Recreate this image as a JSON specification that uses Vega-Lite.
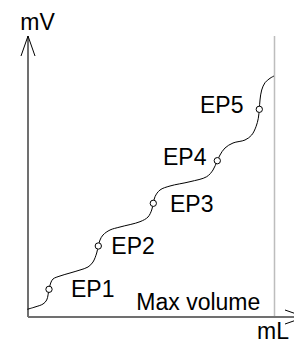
{
  "$schema": "https://vega.github.io/schema/vega-lite/v6.json",
  "width": 294,
  "height": 345,
  "autosize": {"type": "none"},
  "padding": 0,
  "config": {"view": {"stroke": null}},
  "datasets": {
    "curve": [
      {"mL": -0.07, "mV": 0.77},
      {"mL": 0.7, "mV": 1.0},
      {"mL": 1.5, "mV": 1.3},
      {"mL": 1.87, "mV": 1.7},
      {"mL": 2.1, "mV": 2.77},
      {"mL": 2.27, "mV": 3.4},
      {"mL": 2.5, "mV": 3.8},
      {"mL": 3.2, "mV": 4.1},
      {"mL": 4.2, "mV": 4.4},
      {"mL": 5.2, "mV": 4.7},
      {"mL": 6.0, "mV": 5.0},
      {"mL": 6.5, "mV": 5.5},
      {"mL": 6.87, "mV": 6.4},
      {"mL": 7.03, "mV": 7.1},
      {"mL": 7.2, "mV": 7.7},
      {"mL": 7.5, "mV": 8.2},
      {"mL": 8.2, "mV": 8.7},
      {"mL": 9.2, "mV": 9.0},
      {"mL": 11.2, "mV": 9.53},
      {"mL": 12.0, "mV": 10.0},
      {"mL": 12.37, "mV": 10.7},
      {"mL": 12.53, "mV": 11.37},
      {"mL": 12.7, "mV": 12.03},
      {"mL": 13.2, "mV": 12.7},
      {"mL": 14.2, "mV": 13.1},
      {"mL": 16.2, "mV": 13.53},
      {"mL": 17.87, "mV": 14.03},
      {"mL": 18.5, "mV": 14.7},
      {"mL": 18.93, "mV": 15.63},
      {"mL": 19.2, "mV": 16.2},
      {"mL": 19.7, "mV": 16.9},
      {"mL": 20.5, "mV": 17.4},
      {"mL": 21.7, "mV": 17.7},
      {"mL": 22.37, "mV": 18.2},
      {"mL": 22.8, "mV": 19.03},
      {"mL": 23.03, "mV": 19.87},
      {"mL": 23.13, "mV": 20.77},
      {"mL": 23.2, "mV": 21.7},
      {"mL": 23.37, "mV": 22.7},
      {"mL": 23.7, "mV": 23.43},
      {"mL": 24.2, "mV": 23.87},
      {"mL": 24.6, "mV": 24.1}
    ],
    "eps": [
      {"ep": "EP1", "mL": 2.1, "mV": 2.77},
      {"ep": "EP2", "mL": 7.03, "mV": 7.1},
      {"ep": "EP3", "mL": 12.53, "mV": 11.37},
      {"ep": "EP4", "mL": 18.93, "mV": 15.63},
      {"ep": "EP5", "mL": 23.13, "mV": 20.77}
    ],
    "labels": [
      {"text": "EP1", "mL": 4.3, "mV": 2.0},
      {"text": "EP2", "mL": 8.33, "mV": 6.35},
      {"text": "EP3", "mL": 14.2, "mV": 10.55},
      {"text": "EP4", "mL": 13.5, "mV": 15.25},
      {"text": "EP5", "mL": 17.2, "mV": 20.45},
      {"text": "Max volume", "mL": 10.83, "mV": 0.7},
      {"text": "mV", "mL": -0.77, "mV": 28.7},
      {"text": "mL", "mL": 22.9, "mV": -2.2}
    ],
    "axes": [
      {"mL": 0, "mV": 0, "mL2": 0, "mV2": 28.1},
      {"mL": 0, "mV": 0, "mL2": 26.6, "mV2": 0}
    ],
    "arrows": [
      {"mL": 0, "mV": 28.1, "mL2": -0.7, "mV2": 26.1},
      {"mL": 0, "mV": 28.1, "mL2": 0.7, "mV2": 26.1},
      {"mL": 27.7, "mV": 0, "mL2": 25.7, "mV2": 0.7},
      {"mL": 27.7, "mV": 0, "mL2": 25.7, "mV2": -0.7}
    ],
    "maxline": [
      {"mL": 24.65, "mV": 0, "mL2": 24.65, "mV2": 28.1}
    ]
  },
  "encoding": {
    "x": {"field": "mL", "type": "quantitative", "axis": null, "scale": {"domain": [-2.8, 26.6], "nice": false, "zero": false}},
    "y": {"field": "mV", "type": "quantitative", "axis": null, "scale": {"domain": [-2.8, 31.7], "nice": false, "zero": false}}
  },
  "layer": [
    {
      "data": {"name": "maxline"},
      "mark": {"type": "rule", "color": "#bdbdbd", "strokeWidth": 1.5},
      "encoding": {"x2": {"field": "mL2"}, "y2": {"field": "mV2"}}
    },
    {
      "data": {"name": "axes"},
      "mark": {"type": "rule", "color": "#707070", "strokeWidth": 2},
      "encoding": {"x2": {"field": "mL2"}, "y2": {"field": "mV2"}}
    },
    {
      "data": {"name": "arrows"},
      "mark": {"type": "rule", "color": "#000000", "strokeWidth": 1},
      "encoding": {"x2": {"field": "mL2"}, "y2": {"field": "mV2"}}
    },
    {
      "data": {"name": "curve"},
      "mark": {"type": "line", "color": "#000000", "strokeWidth": 1, "interpolate": "catmull-rom"},
      "encoding": {}
    },
    {
      "data": {"name": "eps"},
      "mark": {"type": "point", "shape": "circle", "filled": true, "fill": "#ffffff", "stroke": "#000000", "strokeWidth": 1, "size": 40, "opacity": 1},
      "encoding": {}
    },
    {
      "data": {"name": "labels"},
      "mark": {"type": "text", "align": "left", "baseline": "alphabetic", "font": "Liberation Sans", "fontSize": 23, "color": "#000000"},
      "encoding": {"text": {"field": "text"}}
    }
  ]
}
